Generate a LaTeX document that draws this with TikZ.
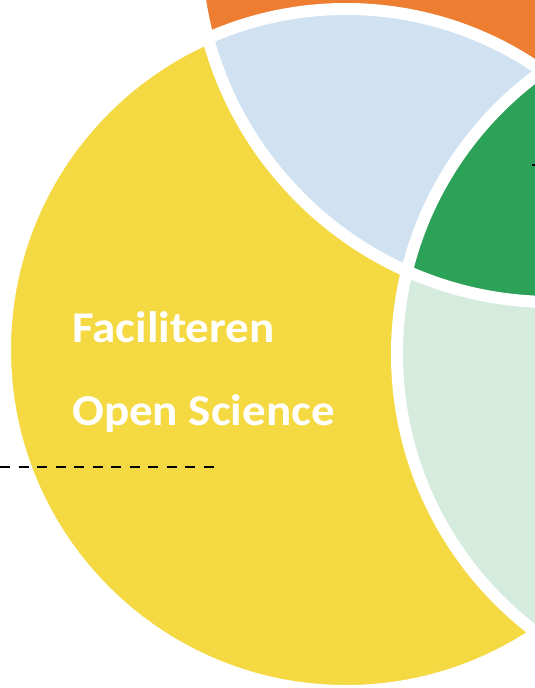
\documentclass[tikz,border=0pt]{standalone}
\usepackage{fontspec}
\setmainfont{Carlito}
\newfontfamily\petalfont{Carlito}[FakeStretch=1.07]
\definecolor{sunyellow}{RGB}{244,217,67}
\definecolor{petalorange}{RGB}{237,125,49}
\definecolor{paleblue}{RGB}{208,226,241}
\definecolor{deepgreen}{RGB}{44,161,88}
\definecolor{palegreen}{RGB}{213,235,221}

\tikzset{
  ring/.style={draw=white, line width=12pt},
  bigtext/.style={text=white, font=\petalfont\fontsize{44}{50}\selectfont\bfseries, anchor=base west, inner sep=0pt},
  guide/.style={line width=1.6pt, dash pattern=on 10pt off 8.5pt}
}

\begin{document}
\begin{tikzpicture}[x=1pt, y=-1pt]
        \useasboundingbox (0,0) rectangle (535,688);
        \clip (0,0) rectangle (535,688);

        % petals
        \fill[petalorange] (552,-54) circle[radius=356];
        \fill[sunyellow]   (346,350) circle[radius=341];

        % overlaps inside the yellow petal
        \begin{scope}
            \clip (346,350) circle[radius=341];
            \fill[paleblue]  (552,-54) circle[radius=356];
            \fill[palegreen] (745,354) circle[radius=348];
            \clip (552,-54) circle[radius=356];
            \fill[deepgreen] (745,354) circle[radius=348];
        \end{scope}

        % white rims
        \draw[ring] (346,350) circle[radius=341];
        \draw[ring] (552,-54) circle[radius=356];
        \draw[ring] (745,354) circle[radius=348];

        \node[bigtext] (faci) at (72,342) {Faciliteren};
        \node[bigtext] (open) at (72,425) {Open Science};

        \coordinate (leftend)    at (0,467);
        \coordinate (leftstop)   at (215,467);
        \coordinate (rightstart) at (532,165);
        \coordinate (rightend)   at (560,165);
        \draw[guide] (leftend) -- (leftstop);
        \draw[guide] (rightstart) -- (rightend);
    \end{tikzpicture}
\end{document}
